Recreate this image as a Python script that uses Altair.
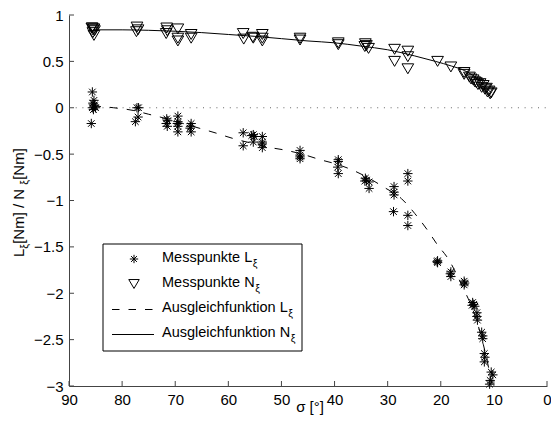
import altair as alt
import pandas as pd

FONT = "Liberation Sans"

# ---- measured points L_xi (stars) ----
L_x = [85.6, 85.3, 85.5, 85.2, 85.6, 85.4, 85.8, 85.3, 85.0,
       77.2, 76.9, 77.0, 77.5,
       71.6, 71.4, 71.7, 71.5,
       69.5, 69.5, 69.5, 69.5, 69.6,
       67.0, 67.1, 67.0, 67.2,
       57.2, 57.2,
       55.3, 55.6, 55.1, 55.3,
       53.6, 53.6, 53.6, 53.6,
       46.5, 46.5, 46.5, 46.5,
       39.3, 39.4, 39.3, 39.3,
       34.2, 34.0, 33.5, 33.5, 34.3,
       28.8, 28.8, 28.8, 28.9,
       26.2, 26.2, 26.2, 26.2,
       20.6, 20.6, 20.7,
       18.1, 18.1, 18.2,
       15.6, 15.6, 15.5,
       14.0, 13.8, 13.6, 14.1,
       13.2, 13.2, 13.1,
       12.3, 12.1, 12.1,
       11.8, 11.7, 11.8,
       10.5, 10.2, 10.7, 10.8]
L_y = [0.17, 0.08, 0.05, 0.02, 0.0, -0.02, -0.17, 0.03, 0.0,
       0.0, 0.0, -0.10, -0.15,
       -0.12, -0.14, -0.17, -0.20,
       -0.09, -0.15, -0.20, -0.26, -0.17,
       -0.17, -0.20, -0.26, -0.22,
       -0.27, -0.41,
       -0.29, -0.30, -0.31, -0.37,
       -0.31, -0.37, -0.39, -0.43,
       -0.46, -0.51, -0.53, -0.55,
       -0.56, -0.64, -0.71, -0.58,
       -0.76, -0.78, -0.80, -0.87, -0.79,
       -0.85, -0.91, -0.94, -1.12,
       -0.71, -0.79, -1.16, -1.27,
       -1.65, -1.67, -1.66,
       -1.77, -1.82, -1.79,
       -1.87, -1.91, -1.89,
       -2.10, -2.12, -2.14, -2.13,
       -2.21, -2.25, -2.29,
       -2.42, -2.46, -2.49,
       -2.65, -2.69, -2.74,
       -2.85, -2.88, -2.94, -2.98]

# ---- measured points N_xi (triangles) ----
N_x = [85.6, 85.3, 85.5, 85.2, 85.5, 85.3, 85.7,
       77.2, 77.0, 77.3,
       71.6, 71.5, 71.7,
       69.5, 69.5, 69.5,
       67.0, 67.0,
       57.2, 57.1,
       55.3, 55.4,
       53.6, 53.6, 53.6,
       46.5, 46.5,
       39.3, 39.3,
       34.2, 34.0, 33.6, 34.3,
       28.7, 28.7,
       26.2, 26.2, 26.2,
       20.6, 18.1, 15.6, 15.6,
       14.6, 14.3, 13.9, 13.6, 13.3, 13.0, 12.6, 12.3, 12.0, 11.7,
       11.4, 11.2, 10.9, 10.7, 10.5]
N_y = [0.86, 0.85, 0.84, 0.83, 0.81, 0.78, 0.86,
       0.87, 0.84, 0.82,
       0.86, 0.83, 0.80,
       0.85, 0.75, 0.72,
       0.79, 0.75,
       0.80, 0.74,
       0.75, 0.76,
       0.79, 0.75, 0.72,
       0.75, 0.73,
       0.70, 0.68,
       0.69, 0.67, 0.64, 0.66,
       0.63, 0.50,
       0.61, 0.55, 0.42,
       0.50, 0.44, 0.36, 0.38,
       0.33, 0.31, 0.30, 0.28, 0.27, 0.25, 0.26, 0.22, 0.24, 0.20,
       0.21, 0.17, 0.18, 0.15, 0.16]

# ---- fitted curves ----
LF_x = [85.5, 81.6, 77.8, 75.0, 71.5, 68.5, 65.5, 62.5, 59.2, 55.0, 52.0, 49.0,
        45.5, 42.7, 39.5, 36.7, 33.5, 30.9, 27.4, 24.9, 22.5, 20.6, 18.7, 15.9,
        13.5, 12.0, 11.0, 10.3]
LF_y = [0.02, 0.0, -0.03, -0.07, -0.12, -0.17, -0.22, -0.27, -0.33, -0.39, -0.43, -0.46,
        -0.51, -0.56, -0.61, -0.67, -0.76, -0.85, -0.98, -1.14, -1.32, -1.48, -1.62, -1.93,
        -2.25, -2.55, -2.80, -3.0]
NF_x = [85.5, 80.0, 75.0, 70.0, 65.0, 60.0, 55.0, 50.0, 45.0, 40.0, 35.0, 30.0,
        25.0, 21.0, 18.0, 15.5, 14.0, 12.5, 11.5, 10.5]
NF_y = [0.84, 0.84, 0.835, 0.825, 0.81, 0.79, 0.77, 0.745, 0.72, 0.70, 0.665, 0.625,
        0.56, 0.50, 0.45, 0.40, 0.35, 0.28, 0.22, 0.16]

x_ticks = [90, 80, 70, 60, 50, 40, 30, 20, 10, 0]
y_ticks = [1, 0.5, 0, -0.5, -1, -1.5, -2, -2.5, -3]
legend_main = ["Messpunkte L", "Messpunkte N", "Ausgleichfunktion L", "Ausgleichfunktion N"]
SUB = "ξ"
NB = "\u00a0"
y_title_parts = ["L", SUB, NB + "[Nm]" + NB + "/" + NB + "N", SUB, NB + "[Nm]"]
x_title = "σ [°]"

# ---- layout ----
W, H = 478, 371
FS = 15
LFS = 14.5
SFS = 10.5
STAR = "M-1,0L1,0M0,-1L0,1M-0.7,-0.7L0.7,0.7M-0.7,0.7L0.7,-0.7"
TRI = "M-1,-0.85L1,-0.85L0,0.85Z"

AW = {'M': .833, 'e': .556, 's': .5, 'p': .556, 'u': .556, 'n': .556, 'k': .5, 't': .278,
      ' ': .278, NB: .278, 'L': .556, 'N': .722, 'A': .667, 'g': .556, 'l': .222, 'i': .222,
      'c': .5, 'h': .556, 'f': .278, 'o': .556, '[': .278, ']': .278, 'm': .833, '/': .278,
      'ξ': .46}


def tw(s, fs):
    return sum(AW.get(c, 0.55) for c in s) * fs


xs = alt.Scale(domain=[0, 90], reverse=True, nice=False, zero=False)
ys = alt.Scale(domain=[-3, 1], nice=False, zero=False)

dfL = pd.DataFrame({"x": L_x, "y": L_y})
dfN = pd.DataFrame({"x": N_x, "y": N_y})
dfLF = pd.DataFrame({"x": LF_x, "y": LF_y})
dfNF = pd.DataFrame({"x": NF_x, "y": NF_y})

xaxis = alt.Axis(values=x_ticks, format="d", title=None, labelPadding=6)
yaxis = alt.Axis(values=y_ticks, format="~g", title=None, labelPadding=6)
X = alt.X("x:Q", scale=xs, axis=xaxis)
Y = alt.Y("y:Q", scale=ys, axis=yaxis)

zero = alt.Chart(pd.DataFrame({"x": [90.0], "x2": [0.0], "y": [0.0]})).mark_rule(
    color="#666", strokeDash=[1, 5.7], strokeWidth=1
).encode(x=X, x2="x2:Q", y=Y)

stars = alt.Chart(dfL).mark_point(
    shape=STAR, size=88, filled=False, stroke="black", strokeWidth=1, opacity=1
).encode(x=X, y=Y)

tris = alt.Chart(dfN).mark_point(
    shape=TRI, size=137, filled=False, stroke="black", strokeWidth=1, opacity=1
).encode(x=X, y=Y)

lfit = alt.Chart(dfLF).mark_line(
    color="black", strokeWidth=1, strokeDash=[8, 9], interpolate="monotone"
).encode(x=X, y=Y)

nfit = alt.Chart(dfNF).mark_line(
    color="black", strokeWidth=1, interpolate="monotone"
).encode(x=X, y=Y)

# inward ticks
xt = alt.Chart(pd.DataFrame({"x": x_ticks})).mark_rule(color="#444", strokeWidth=1).encode(
    x=X, y=alt.value(H), y2=alt.value(H - 5))
yt = alt.Chart(pd.DataFrame({"y": y_ticks})).mark_rule(color="#444", strokeWidth=1).encode(
    y=Y, x=alt.value(0), x2=alt.value(5))

# axis titles
xtitle = alt.Chart(pd.DataFrame({"t": [x_title]})).mark_text(
    font=FONT, fontSize=FS, baseline="middle", align="center", color="black"
).encode(text="t:N", x=alt.value(W / 2 + 2), y=alt.value(H + 21))

total = sum(tw(p, SFS if p == SUB else FS) for p in y_title_parts)
y0 = H / 2 + total / 2
rows = []
off = 0.0
for p in y_title_parts:
    fs = SFS if p == SUB else FS
    rows.append({"t": p, "px": -41 if p == SUB else -45, "py": y0 - off, "fs": fs})
    off += tw(p, fs)
dft = pd.DataFrame(rows)
ytitle_main = alt.Chart(dft[dft.t != SUB]).mark_text(
    font=FONT, fontSize=FS, angle=270, align="left", baseline="alphabetic", color="black"
).encode(text="t:N", x=alt.X("px:Q", scale=None), y=alt.Y("py:Q", scale=None))
ytitle_sub = alt.Chart(dft[dft.t == SUB]).mark_text(
    font=FONT, fontSize=SFS, angle=270, align="left", baseline="alphabetic", color="black"
).encode(text="t:N", x=alt.X("px:Q", scale=None), y=alt.Y("py:Q", scale=None))

# legend
box = alt.Chart(pd.DataFrame({"a": [0]})).mark_rect(
    fill="white", stroke="black", strokeWidth=1
).encode(x=alt.value(34), x2=alt.value(233), y=alt.value(229), y2=alt.value(336))

TX = 93
base_y = [247, 272, 297, 322]
leg = pd.DataFrame({
    "t": legend_main,
    "tx": [TX] * 4,
    "ty": base_y,
    "sx": [TX + tw(s, LFS) + 0.5 for s in legend_main],
    "sy": [b + 4.5 for b in base_y],
    "s": [SUB] * 4,
})
leg_text = alt.Chart(leg).mark_text(
    font=FONT, fontSize=LFS, align="left", baseline="alphabetic", color="black"
).encode(text="t:N", x=alt.X("tx:Q", scale=None), y=alt.Y("ty:Q", scale=None))
leg_sub = alt.Chart(leg).mark_text(
    font=FONT, fontSize=SFS, align="left", baseline="alphabetic", color="black"
).encode(text="s:N", x=alt.X("sx:Q", scale=None), y=alt.Y("sy:Q", scale=None))

leg_star = alt.Chart(pd.DataFrame({"a": [0]})).mark_point(
    shape=STAR, size=70, filled=False, stroke="black", strokeWidth=1, opacity=1
).encode(x=alt.value(65), y=alt.value(244))
leg_tri = alt.Chart(pd.DataFrame({"a": [0]})).mark_point(
    shape=TRI, size=110, filled=False, stroke="black", strokeWidth=1, opacity=1
).encode(x=alt.value(65), y=alt.value(269))
leg_dash = alt.Chart(pd.DataFrame({"a": [0]})).mark_rule(
    color="black", strokeWidth=1, strokeDash=[7.5, 9]
).encode(x=alt.value(43), x2=alt.value(85), y=alt.value(294.5))
leg_solid = alt.Chart(pd.DataFrame({"a": [0]})).mark_rule(
    color="black", strokeWidth=1
).encode(x=alt.value(43), x2=alt.value(85), y=alt.value(319.5))

chart = alt.layer(
    zero, stars, tris, lfit, nfit, xt, yt, xtitle, ytitle_main, ytitle_sub,
    box, leg_text, leg_sub, leg_star, leg_tri, leg_dash, leg_solid
).properties(
    width=W, height=H,
    autosize=alt.AutoSizeParams(type="none"),
    padding={"left": 61, "top": 7, "right": 4, "bottom": 30},
).configure_view(stroke=None).configure_axis(
    grid=False, ticks=False, labelFontSize=FS, labelFont=FONT, labelColor="black",
    domainColor="#444", domainWidth=1, labelFlush=False, labelOverlap=False
)

chart.save("out.html", embed_options={"renderer": "svg", "actions": False})
